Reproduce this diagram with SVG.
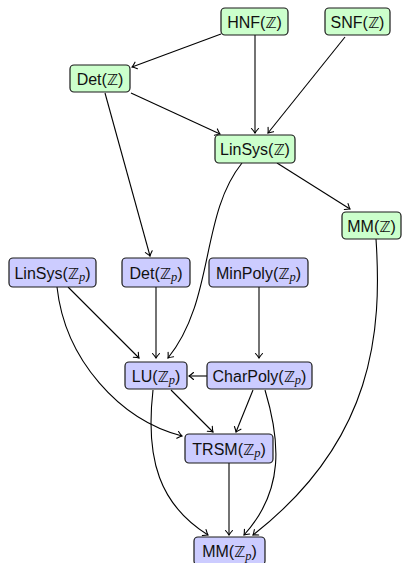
<svg xmlns="http://www.w3.org/2000/svg" width="405" height="563" viewBox="0 0 405 563">
<defs>
<marker id="arr" markerWidth="10" markerHeight="10" viewBox="-6 -5 8 10" refX="0" refY="0" orient="auto" markerUnits="userSpaceOnUse">
<path d="M-4.5,-3.5 Q-1.5,-0.8 0,0 Q-1.5,0.8 -4.5,3.5" fill="none" stroke="#000" stroke-width="1.1" stroke-linecap="round"/>
</marker>
<style>
.g rect{fill:#ccffcc;stroke:#1a1a1a;stroke-width:1.2}
.b rect{fill:#ccccff;stroke:#1a1a1a;stroke-width:1.2}
text{font-family:"Liberation Sans","DejaVu Sans",sans-serif;font-size:16px;fill:#111;text-anchor:middle}
.z{font-family:"DejaVu Sans",sans-serif;font-size:15px}
.p{font-family:"Liberation Serif","DejaVu Serif",serif;font-style:italic;font-size:12.5px}
#edges path{fill:none;stroke:#000;stroke-width:1.1;marker-end:url(#arr)}
</style>
</defs>
<g id="edges">
<path d="M221,34 L132,67"/>
<path d="M255,35 L255,133"/>
<path d="M345,37 L268,133"/>
<path d="M131,93 L220,134"/>
<path d="M105,93 L150,256"/>
<path d="M242,163 C200,215 215,300 168,358"/>
<path d="M277,163 L350,209"/>
<path d="M376,239 C382,330 375,440 253,535"/>
<path d="M68,287 L139,358"/>
<path d="M57,287 C65,360 120,420 182,436"/>
<path d="M156,287 L156,358"/>
<path d="M259,287 L259,358"/>
<path d="M207,376 L189,376"/>
<path d="M171,390 L213,432"/>
<path d="M253,390 L236,432"/>
<path d="M153,390 C145,460 160,505 208,535"/>
<path d="M229,463 L229,535"/>
<path d="M265,390 C280,440 285,490 244,535"/>
</g>
<g id="hnf" class="g"><rect x="221" y="8" width="67" height="27" rx="4"/><text x="254.5" y="27.5">HNF(<tspan class="z">ℤ</tspan>)</text></g>
<g id="snf" class="g"><rect x="325" y="8" width="65" height="27" rx="4"/><text x="357.5" y="27.5">SNF(<tspan class="z">ℤ</tspan>)</text></g>
<g id="detz" class="g"><rect x="70" y="65" width="60" height="27" rx="4"/><text x="100" y="84.5">Det(<tspan class="z">ℤ</tspan>)</text></g>
<g id="linsysz" class="g"><rect x="215" y="135" width="80" height="28" rx="4"/><text x="255" y="155">LinSys(<tspan class="z">ℤ</tspan>)</text></g>
<g id="mmz" class="g"><rect x="342" y="212" width="59" height="27" rx="4"/><text x="371.5" y="231.5">MM(<tspan class="z">ℤ</tspan>)</text></g>
<g id="linsyszp" class="b"><rect x="9" y="258" width="87" height="29" rx="4"/><text x="52.5" y="278.5">LinSys(<tspan class="z">ℤ</tspan><tspan class="p" dy="2.5">p</tspan><tspan dy="-2.5">)</tspan></text></g>
<g id="detzp" class="b"><rect x="122" y="258" width="68" height="29" rx="4"/><text x="156" y="278.5">Det(<tspan class="z">ℤ</tspan><tspan class="p" dy="2.5">p</tspan><tspan dy="-2.5">)</tspan></text></g>
<g id="minpoly" class="b"><rect x="209" y="258" width="99" height="29" rx="4"/><text x="258.5" y="278.5">MinPoly(<tspan class="z">ℤ</tspan><tspan class="p" dy="2.5">p</tspan><tspan dy="-2.5">)</tspan></text></g>
<g id="lu" class="b"><rect x="125" y="362" width="62" height="27" rx="4"/><text x="156" y="381.5">LU(<tspan class="z">ℤ</tspan><tspan class="p" dy="2.5">p</tspan><tspan dy="-2.5">)</tspan></text></g>
<g id="charpoly" class="b"><rect x="207" y="362" width="105" height="27" rx="4"/><text x="259.5" y="381.5">CharPoly(<tspan class="z">ℤ</tspan><tspan class="p" dy="2.5">p</tspan><tspan dy="-2.5">)</tspan></text></g>
<g id="trsm" class="b"><rect x="185" y="434" width="88" height="29" rx="4"/><text x="229" y="454.5">TRSM(<tspan class="z">ℤ</tspan><tspan class="p" dy="2.5">p</tspan><tspan dy="-2.5">)</tspan></text></g>
<g id="mmzp" class="b"><rect x="194" y="537" width="71" height="28" rx="4"/><text x="229.5" y="557">MM(<tspan class="z">ℤ</tspan><tspan class="p" dy="2.5">p</tspan><tspan dy="-2.5">)</tspan></text></g>
</svg>
